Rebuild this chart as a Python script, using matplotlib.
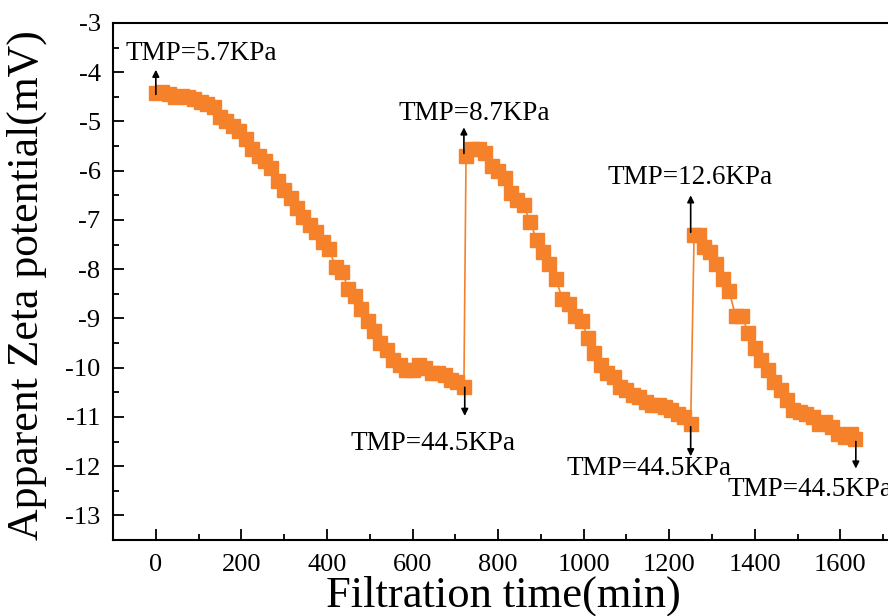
import numpy as np
import matplotlib
matplotlib.use('Agg')
import matplotlib.pyplot as plt

plt.rcParams['font.family'] = ['Liberation Serif', 'DejaVu Serif']
plt.rcParams['axes.unicode_minus'] = False

# filtration time (min) and apparent zeta potential (mV), three TMP cycles
time_min = [0, 15, 30, 45, 60, 75, 90, 105, 120, 135, 150, 165, 180, 195, 210, 225,
            240, 255, 270, 285, 300, 315, 330, 345, 360, 375, 390, 405, 420, 435, 450,
            465, 480, 495, 510, 525, 540, 555, 570, 585, 600, 615, 630, 645, 660, 675,
            690, 705, 720,
            725, 740, 755, 770, 785, 800, 815, 830, 845, 860, 875, 890, 905, 920, 935,
            950, 965, 980, 995, 1010, 1025, 1040, 1055, 1070, 1085, 1100, 1115, 1130,
            1145, 1160, 1175, 1190, 1205, 1220, 1235, 1250,
            1258, 1270, 1280, 1295, 1310, 1325, 1340, 1355, 1370, 1385, 1400, 1415,
            1430, 1445, 1460, 1475, 1490, 1505, 1520, 1535, 1550, 1565, 1580, 1595,
            1610, 1625, 1635]
zeta_mv = [-4.42, -4.40, -4.45, -4.50, -4.48, -4.50, -4.55, -4.60, -4.65, -4.70, -4.90,
           -5.00, -5.10, -5.20, -5.35, -5.55, -5.70, -5.80, -5.95, -6.20, -6.40, -6.55,
           -6.75, -6.95, -7.10, -7.25, -7.45, -7.60, -7.95, -8.05, -8.40, -8.55, -8.80,
           -9.05, -9.25, -9.50, -9.65, -9.85, -9.95, -10.05, -10.05, -9.95, -10.00,
           -10.10, -10.10, -10.15, -10.25, -10.30, -10.40,
           -5.70, -5.55, -5.55, -5.65, -5.90, -6.00, -6.15, -6.45, -6.60, -6.70, -7.05,
           -7.40, -7.65, -7.90, -8.20, -8.60, -8.70, -8.95, -9.05, -9.40, -9.70, -9.95,
           -10.10, -10.20, -10.40, -10.45, -10.55, -10.60, -10.70, -10.75, -10.75,
           -10.80, -10.85, -10.95, -11.00, -11.15,
           -7.30, -7.30, -7.55, -7.65, -7.90, -8.20, -8.45, -8.95, -8.95, -9.30, -9.60,
           -9.85, -10.05, -10.30, -10.45, -10.65, -10.85, -10.90, -10.95, -11.00,
           -11.15, -11.10, -11.20, -11.35, -11.40, -11.35, -11.45]

tmp_labels = ["TMP=5.7KPa", "TMP=8.7KPa", "TMP=12.6KPa",
              "TMP=44.5KPa", "TMP=44.5KPa", "TMP=44.5KPa"]

fig = plt.figure(figsize=(8.88, 6.16), dpi=100)
ax = fig.add_axes([0.1273, 0.1234, 0.9155, 0.8393])

ax.plot(time_min, zeta_mv, color='#F5822A', lw=1.2, marker='s', ms=10,
        markeredgecolor='#F5822A')

ax.set_xlim(-93, 1800)
ax.set_ylim(-13.5, -3)
ax.set_xticks(np.arange(0, 1601, 200))
ax.set_xticks(np.arange(-100, 1801, 100), minor=True)
ax.set_yticks(np.arange(-13, -2.9, 1))
ax.set_yticks(np.arange(-13.5, -2.9, 0.5), minor=True)
ax.tick_params(which='both', direction='in', width=1.3, labelsize=19)
ax.tick_params(which='major', length=8)
ax.tick_params(which='minor', length=4.5)
ax.tick_params(axis='x', pad=10)
ax.tick_params(axis='y', pad=9)
for s in ax.spines.values():
    s.set_linewidth(1.5)

ax.set_xlabel('Filtration time(min)', fontsize=32, va='center')
ax.xaxis.set_label_coords(0.48, -0.108)
ax.set_ylabel('Apparent Zeta potential(mV)', fontsize=31.5, va='center')
ax.yaxis.set_label_coords(-0.106, 0.493)

# arrows (tail at data, head toward label)
arrows = [(0, -4.45, -3.95), (720, -5.65, -5.12), (1250, -7.25, -6.5),
          (722, -10.4, -10.98), (1250, -11.2, -11.8), (1636, -11.5, -12.05)]
text_pos = [(-72, -3.61), (566, -4.83), (1055, -6.13),
            (454, -11.54), (960, -12.05), (1337, -12.47)]
for (x, y0, y1), (tx, ty), lab in zip(arrows, text_pos, tmp_labels):
    ax.annotate('', xy=(x, y1), xytext=(x, y0),
                arrowprops=dict(arrowstyle='-|>', color='black', lw=1.2,
                                mutation_scale=10, shrinkA=0, shrinkB=0))
    ax.text(tx, ty, lab, fontsize=19.5, ha='left', va='center', clip_on=False)

fig.savefig('out.png', dpi=100)
